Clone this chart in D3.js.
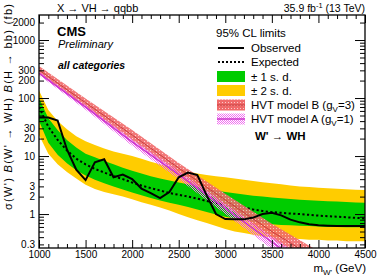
<!DOCTYPE html>
<html><head><meta charset="utf-8">
<script src="https://cdn.jsdelivr.net/npm/d3@7"></script>
<style>
html,body{margin:0;padding:0;background:#fff;}
svg{display:block;font-family:"Liberation Sans",Arial,Helvetica,sans-serif;}
</style></head>
<body>
<svg id="c" width="386" height="277"></svg>
<script>
// ---------------- data ----------------
const masses = [1000,1100,1200,1300,1400,1500,1600,1700,1800,1900,2000,2100,2200,2300,2400,2500,2600,2700,2800,2900,3000,3100,3200,3300,3400,3500,3600,3700,3800,3900,4000,4100,4200,4300,4400,4500];
const observed = [46,46,41,13,5.8,3.85,7.8,8.8,4.3,4.8,4.0,2.75,2.3,1.88,2.4,4.3,5.2,4.7,2.1,1.0,0.82,0.81,0.81,0.87,1.0,1.05,0.95,0.8,0.72,0.67,0.64,0.63,0.62,0.62,0.62,0.62];
const expected = [70,32,19,12.5,9,7.2,6.0,5.2,4.5,4.0,3.5,3.1,2.8,2.55,2.3,2.15,2.0,1.85,1.68,1.55,1.45,1.37,1.3,1.2,1.13,1.08,1.05,1.02,1.0,0.97,0.94,0.92,0.9,0.88,0.86,0.84];
const sigma1Up = [100,45,28,19,14,11,9.5,8.2,7.2,6.3,5.6,5.0,4.5,4.1,3.8,3.5,3.25,3.0,2.75,2.55,2.4,2.28,2.17,2.07,2.0,1.93,1.87,1.82,1.77,1.73,1.7,1.67,1.64,1.61,1.59,1.57];
const sigma1Dn = [40,17,10.5,7.5,5.7,4.6,3.9,3.4,3.0,2.65,2.35,2.1,1.9,1.72,1.57,1.45,1.33,1.2,1.08,0.98,0.9,0.84,0.79,0.74,0.7,0.67,0.65,0.64,0.63,0.62,0.61,0.6,0.6,0.59,0.59,0.59];
const sigma2Up = [135,62,40,29,22,18,15.5,13.5,12,11,10,9,8,7.2,6.5,5.9,5.4,5.0,4.7,4.5,4.3,4.1,3.9,3.7,3.55,3.4,3.25,3.12,3.0,2.92,2.85,2.78,2.72,2.67,2.63,2.6];
const sigma2Dn = [23,11,7.2,5.3,4.1,3.2,2.7,2.4,2.2,2.0,1.8,1.6,1.45,1.3,1.15,1.0,0.88,0.78,0.7,0.62,0.55,0.5,0.47,0.44,0.41,0.4,0.39,0.38,0.37,0.36,0.36,0.35,0.35,0.34,0.34,0.34];

const hvtMass = [1000,1500,2000,2500,3000,3500,4000];
const hvtB     = [304,83,23,6.2,1.75,0.5,0.16];
const hvtBLow  = [260,70,19,5.0,1.35,0.37,0.11];
const hvtBHigh = [355,98,28,7.6,2.25,0.68,0.23];
const hvtA     = [267,70,17.5,4.8,1.25,0.33,0.09];
const hvtALow  = [247,63,15,4.0,1.0,0.25,0.065];
const hvtAHigh = [285,76,19.5,5.5,1.5,0.41,0.12];

const xMajor = [1000,1500,2000,2500,3000,3500,4000,4500];
const yLabels = [0.3,1,2,3,10,20,30,100,200,300,1000,2000];
const yDecades = [1,10,100,1000];

// ---------------- layout ----------------
const L=39, R=365, T=15, B=248;
const svg = d3.select("#c");
const x = d3.scaleLinear().domain([1000,4500]).range([L,R]);
const y = d3.scaleLog().domain([0.26,2700]).range([B,T]);

const defs = svg.append("defs");
defs.append("clipPath").attr("id","clip").append("rect").attr("x",L).attr("y",T).attr("width",R-L).attr("height",B-T);
const pr = defs.append("pattern").attr("id","redHatch").attr("width",3).attr("height",3).attr("patternUnits","userSpaceOnUse");
pr.append("rect").attr("width",3).attr("height",3).attr("fill","#f06a6a");
pr.append("rect").attr("width",1).attr("height",1).attr("fill","#fbc9c9");
const pp = defs.append("pattern").attr("id","pinkHatch").attr("width",2).attr("height",2).attr("patternUnits","userSpaceOnUse");
pp.append("rect").attr("width",1).attr("height",1).attr("fill","#f070f0");
pp.append("rect").attr("x",1).attr("y",1).attr("width",1).attr("height",1).attr("fill","#f070f0");

const g = svg.append("g").attr("clip-path","url(#clip)");
const idx = masses.map((m,i)=>i);
const area = (lo,hi,xs)=>d3.area().x(i=>x(xs[i])).y0(i=>y(lo[i])).y1(i=>y(hi[i]));
const line = (v,xs)=>d3.line().x(i=>x(xs[i])).y(i=>y(v[i]));

g.append("path").datum(idx).attr("d",area(sigma2Dn,sigma2Up,masses)).attr("fill","#ffcc00");
g.append("path").datum(idx).attr("d",area(sigma1Dn,sigma1Up,masses)).attr("fill","#00cc00");
g.append("path").datum(idx).attr("d",line(expected,masses)).attr("fill","none").attr("stroke","#000").attr("stroke-width",2).attr("stroke-dasharray","2.2,2.4");

const hidx = hvtMass.map((m,i)=>i);
g.append("path").datum(hidx).attr("d",area(hvtBLow,hvtBHigh,hvtMass)).attr("fill","url(#redHatch)").attr("opacity",0.9);
g.append("path").datum(hidx).attr("d",line(hvtB,hvtMass)).attr("fill","none").attr("stroke","#c83c3c").attr("stroke-width",1);
g.append("path").datum(hidx).attr("d",area(hvtALow,hvtAHigh,hvtMass)).attr("fill","url(#pinkHatch)");
g.append("path").datum(hidx).attr("d",line(hvtA,hvtMass)).attr("fill","none").attr("stroke","#cc33cc").attr("stroke-width",1.5);

g.append("path").datum(idx).attr("d",line(observed,masses)).attr("fill","none").attr("stroke","#000").attr("stroke-width",2).attr("stroke-linejoin","miter");

// ---------------- axes ----------------
const xMinor = d3.range(1000,4501,100).filter(v=>v%500!==0);
const yMinor = [];
yDecades.concat([0.1]).forEach(d=>{for(let k=2;k<=9;k++){const v=d*k; if(v>=0.26&&v<=2700) yMinor.push(v);}});

function styleAxis(sel){sel.select(".domain").remove(); sel.selectAll("line").attr("stroke","#000").attr("stroke-width",1);}
const fs = 10;
// bottom
svg.append("g").attr("transform",`translate(0,${B})`).call(d3.axisBottom(x).tickValues(xMajor).tickSize(-8).tickPadding(3).tickFormat(d3.format("d"))).call(styleAxis)
  .selectAll("text").attr("font-size",fs).attr("fill","#000").attr("font-family","Liberation Sans, Arial").attr("y",3);
svg.append("g").attr("transform",`translate(0,${B})`).call(d3.axisBottom(x).tickValues(xMinor).tickSize(-4).tickFormat("")).call(styleAxis);
// top
svg.append("g").attr("transform",`translate(0,${T})`).call(d3.axisTop(x).tickValues(xMajor).tickSize(-8).tickFormat("")).call(styleAxis);
svg.append("g").attr("transform",`translate(0,${T})`).call(d3.axisTop(x).tickValues(xMinor).tickSize(-4).tickFormat("")).call(styleAxis);
// left
svg.append("g").attr("transform",`translate(${L},0)`).call(d3.axisLeft(y).tickValues(yDecades).tickSize(-10).tickFormat("")).call(styleAxis);
svg.append("g").attr("transform",`translate(${L},0)`).call(d3.axisLeft(y).tickValues(yMinor).tickSize(-5).tickFormat("")).call(styleAxis);
svg.append("g").attr("transform",`translate(${L},0)`).call(d3.axisLeft(y).tickValues(yLabels).tickSize(0).tickPadding(4).tickFormat(d=>String(d))).call(styleAxis)
  .selectAll("text").attr("font-size",fs).attr("fill","#000").attr("font-family","Liberation Sans, Arial");
// right
svg.append("g").attr("transform",`translate(${R},0)`).call(d3.axisRight(y).tickValues(yDecades).tickSize(-10).tickFormat("")).call(styleAxis);
svg.append("g").attr("transform",`translate(${R},0)`).call(d3.axisRight(y).tickValues(yMinor).tickSize(-5).tickFormat("")).call(styleAxis);

svg.append("rect").attr("x",L).attr("y",T).attr("width",R-L).attr("height",B-T).attr("fill","none").attr("stroke","#000").attr("stroke-width",1.3);

// ---------------- texts ----------------
const txt=(xx,yy,s,size,opts={})=>{const t=svg.append("text").attr("x",xx).attr("y",yy).attr("font-size",size).attr("fill","#000").text(s);
  if(opts.anchor)t.attr("text-anchor",opts.anchor); if(opts.weight)t.attr("font-weight",opts.weight); if(opts.style)t.attr("font-style",opts.style); return t;};

txt(57,12,"X → VH → qqbb",11);
const lumi = svg.append("text").attr("x",365).attr("y",12).attr("text-anchor","end").attr("font-size",10.5);
lumi.append("tspan").text("35.9 fb");
lumi.append("tspan").attr("dy",-4).attr("font-size",7.5).text("-1");
lumi.append("tspan").attr("dy",4).text(" (13 TeV)");

txt(57,36,"CMS",13,{weight:"bold"});
txt(58,48,"Preliminary",11,{style:"italic"});
txt(58,69,"all categories",10.5,{weight:"bold",style:"italic"});

// y title
const yt = svg.append("text").attr("transform","translate(12,4) rotate(-90)").attr("text-anchor","end").attr("font-size",11)
  .attr("textLength",206).attr("lengthAdjust","spacing");
yt.append("tspan").text("σ(W') ");
yt.append("tspan").attr("font-style","italic").text("B");
yt.append("tspan").text("(W' → WH) ");
yt.append("tspan").attr("font-style","italic").text("B");
yt.append("tspan").text("(H → bb) (fb)");

// x title
const xt = svg.append("text").attr("x",366).attr("y",272).attr("text-anchor","end").attr("font-size",11.5);
xt.append("tspan").text("m");
xt.append("tspan").attr("dy",3).attr("font-size",8).text("W'");
xt.append("tspan").attr("dy",-3).text(" (GeV)");

// legend
const lx0=218, lx1=244, tx=251, lfs=11.5;
txt(216,37,"95% CL limits",lfs);
svg.append("line").attr("x1",lx0).attr("x2",lx1).attr("y1",48).attr("y2",48).attr("stroke","#000").attr("stroke-width",2);
txt(tx,52,"Observed",lfs);
svg.append("line").attr("x1",lx0).attr("x2",lx1).attr("y1",62).attr("y2",62).attr("stroke","#000").attr("stroke-width",2).attr("stroke-dasharray","2,2");
txt(tx,66,"Expected",lfs);
svg.append("rect").attr("x",217).attr("y",71).attr("width",28).attr("height",11).attr("fill","#00cc00");
txt(tx,80.5,"± 1 s. d.",lfs);
svg.append("rect").attr("x",217).attr("y",85).attr("width",28).attr("height",11).attr("fill","#ffcc00");
txt(tx,94.5,"± 2 s. d.",lfs);
svg.append("rect").attr("x",217).attr("y",99.5).attr("width",28).attr("height",11).attr("fill","url(#redHatch)");
svg.append("line").attr("x1",217).attr("x2",245).attr("y1",105).attr("y2",105).attr("stroke","#c83c3c").attr("stroke-width",1);
const hb = txt(tx,109,"HVT model B (g",lfs);
hb.append("tspan").attr("dy",2.5).attr("font-size",8).text("V");
hb.append("tspan").attr("dy",-2.5).text("=3)");
svg.append("rect").attr("x",217).attr("y",113.5).attr("width",28).attr("height",11).attr("fill","url(#pinkHatch)");
svg.append("line").attr("x1",217).attr("x2",245).attr("y1",119).attr("y2",119).attr("stroke","#cc33cc").attr("stroke-width",1.5);
const ha = txt(tx,123,"HVT model A (g",lfs);
ha.append("tspan").attr("dy",2.5).attr("font-size",8).text("V");
ha.append("tspan").attr("dy",-2.5).text("=1)");
txt(255,140,"W' → WH",11.5,{weight:"bold"});
</script>
</body></html>
